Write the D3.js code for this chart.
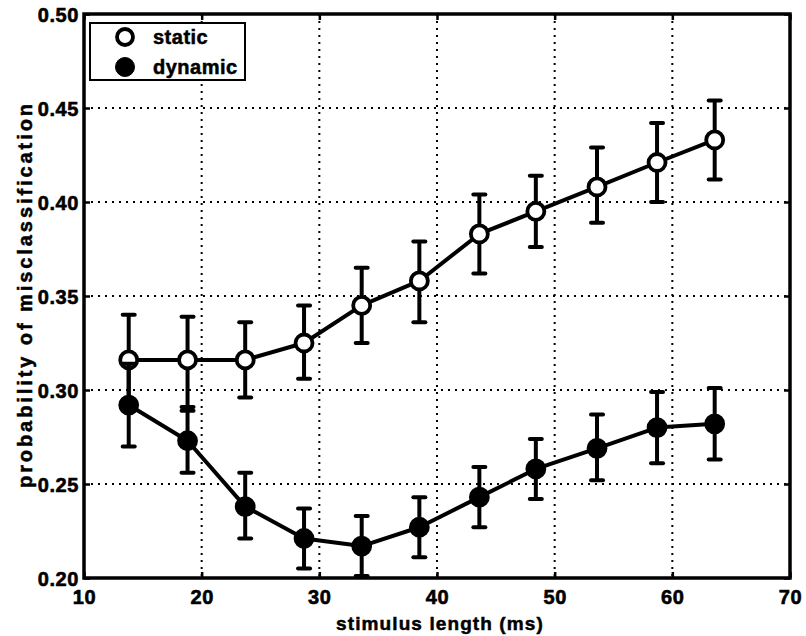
<!DOCTYPE html>
<html>
<head>
<meta charset="utf-8">
<script src="https://cdn.jsdelivr.net/npm/d3@7"></script>
<style>
  html, body { margin: 0; padding: 0; background: #fff; }
  svg { display: block; }
  text { font-family: "Liberation Sans", Arial, Helvetica, sans-serif; font-weight: bold; fill: #000; stroke: #000; stroke-width: 0.5px; }
</style>
</head>
<body>
<svg id="chart" width="806" height="636"></svg>
<script>
// ---- data ----
const stimulusLength = [13.8, 18.8, 23.7, 28.7, 33.6, 38.5, 43.6, 48.4, 53.6, 58.7, 63.6];
const staticMean  = [0.316, 0.316, 0.316, 0.325, 0.345, 0.358, 0.383, 0.395, 0.408, 0.421, 0.433];
const staticLow   = [0.292, 0.291, 0.296, 0.306, 0.325, 0.336, 0.362, 0.376, 0.389, 0.400, 0.412];
const staticHigh  = [0.340, 0.339, 0.336, 0.345, 0.365, 0.379, 0.404, 0.414, 0.429, 0.442, 0.454];
const dynamicMean = [0.292, 0.273, 0.238, 0.221, 0.217, 0.227, 0.243, 0.258, 0.269, 0.280, 0.282];
const dynamicLow  = [0.270, 0.256, 0.221, 0.205, 0.201, 0.211, 0.227, 0.242, 0.252, 0.261, 0.263];
const dynamicHigh = [0.314, 0.289, 0.256, 0.237, 0.233, 0.243, 0.259, 0.274, 0.287, 0.299, 0.301];
const xTicks = [10, 20, 30, 40, 50, 60, 70];
const yTicks = [0.20, 0.25, 0.30, 0.35, 0.40, 0.45, 0.50];
const seriesNames = ["static", "dynamic"];
const xTitle = "stimulus length (ms)";
const yTitle = "probability of misclassification";

// ---- layout ----
const L = 84, R = 790, T = 14, B = 578;
const svg = d3.select("#chart");
const x = d3.scaleLinear().domain([10, 70]).range([L, R]);
const y = d3.scaleLinear().domain([0.20, 0.50]).range([B, T]);

// grid (dotted)
const grid = svg.append("g");
grid.selectAll("line.vx").data(xTicks.slice(1, -1)).join("line")
  .attr("x1", d => x(d)).attr("x2", d => x(d)).attr("y1", T).attr("y2", B)
  .attr("stroke", "#000").attr("stroke-width", 2).attr("stroke-dasharray", "2,5");
grid.selectAll("line.hy").data(yTicks.slice(1, -1)).join("line")
  .attr("y1", d => y(d)).attr("y2", d => y(d)).attr("x1", L).attr("x2", R)
  .attr("stroke", "#000").attr("stroke-width", 2).attr("stroke-dasharray", "2,5");

// axes with inward ticks
const xAxisB = d3.axisBottom(x).tickValues(xTicks).tickSize(-6).tickFormat(d3.format("d"));
const xAxisT = d3.axisTop(x).tickValues(xTicks).tickSize(-6).tickFormat("");
const yAxisL = d3.axisLeft(y).tickValues(yTicks).tickSize(-6).tickFormat(d3.format(".2f"));
const yAxisR = d3.axisRight(y).tickValues(yTicks).tickSize(-6).tickFormat("");

function styleAxis(g) {
  g.select(".domain").remove();
  g.selectAll(".tick line").attr("stroke", "#000").attr("stroke-width", 2.5);
  g.selectAll(".tick text").style("font-size", "20px").style("letter-spacing", "0.6px")
    .style("font-family", '"Liberation Sans", Arial, sans-serif').style("font-weight", "bold")
    .attr("fill", "#000").style("stroke", "#000").style("stroke-width", "0.6px");
}
svg.append("g").attr("transform", `translate(0,${B})`).call(xAxisB).call(styleAxis)
  .selectAll(".tick text").attr("y", 12).attr("dy", "0.71em");
svg.append("g").attr("transform", `translate(0,${T})`).call(xAxisT).call(styleAxis);
svg.append("g").attr("transform", `translate(${L},0)`).call(yAxisL).call(styleAxis)
  .selectAll(".tick text").attr("x", -5).attr("dy", "0.36em");
svg.append("g").attr("transform", `translate(${R},0)`).call(yAxisR).call(styleAxis);

// frame
svg.append("rect").attr("x", L).attr("y", T).attr("width", R - L).attr("height", B - T)
  .attr("fill", "none").attr("stroke", "#000").attr("stroke-width", 3.5);

// series
const series = [
  { name: seriesNames[0], mean: staticMean, low: staticLow, high: staticHigh, fill: "#fff" },
  { name: seriesNames[1], mean: dynamicMean, low: dynamicLow, high: dynamicHigh, fill: "#000" }
];
const line = d3.line().x(d => x(d.x)).y(d => y(d.y));
const capW = 6;
series.forEach(s => {
  const pts = stimulusLength.map((v, i) => ({ x: v, y: s.mean[i], lo: s.low[i], hi: s.high[i] }));
  const g = svg.append("g");
  g.selectAll("line.eb").data(pts).join("line")
    .attr("x1", d => x(d.x)).attr("x2", d => x(d.x)).attr("y1", d => y(d.lo)).attr("y2", d => y(d.hi))
    .attr("stroke", "#000").attr("stroke-width", 4);
  g.selectAll("line.capl").data(pts).join("line")
    .attr("x1", d => x(d.x) - capW).attr("x2", d => x(d.x) + capW).attr("y1", d => y(d.lo)).attr("y2", d => y(d.lo))
    .attr("stroke", "#000").attr("stroke-width", 4).attr("stroke-linecap", "round");
  g.selectAll("line.caph").data(pts).join("line")
    .attr("x1", d => x(d.x) - capW).attr("x2", d => x(d.x) + capW).attr("y1", d => y(d.hi)).attr("y2", d => y(d.hi))
    .attr("stroke", "#000").attr("stroke-width", 4).attr("stroke-linecap", "round");
  g.append("path").datum(pts).attr("d", line).attr("fill", "none")
    .attr("stroke", "#000").attr("stroke-width", 4).attr("stroke-linejoin", "round");
  g.selectAll("circle").data(pts).join("circle")
    .attr("cx", d => x(d.x)).attr("cy", d => y(d.y)).attr("r", 8.5)
    .attr("fill", s.fill).attr("stroke", "#000").attr("stroke-width", 3.8);
});

// legend
const lg = svg.append("g");
lg.append("rect").attr("x", 90).attr("y", 23).attr("width", 155).attr("height", 57)
  .attr("fill", "#fff").attr("stroke", "#000").attr("stroke-width", 2);
series.forEach((s, i) => {
  const cy = 37 + i * 30;
  lg.append("circle").attr("cx", 125).attr("cy", cy).attr("r", i === 0 ? 8 : 9.5)
    .attr("fill", s.fill).attr("stroke", "#000").attr("stroke-width", i === 0 ? 3.8 : 1);
  lg.append("text").attr("x", 153).attr("y", cy).attr("dy", "0.36em")
    .style("font-size", "20px").style("letter-spacing", "0.5px").text(s.name);
});

// axis titles
svg.append("text").attr("x", (L + R) / 2 + 3).attr("y", 630).attr("text-anchor", "middle")
  .style("font-size", "19px").style("letter-spacing", "1.1px").text(xTitle);
svg.append("text").attr("transform", `translate(32,${(T + B) / 2}) rotate(-90)`)
  .attr("text-anchor", "middle")
  .attr("textLength", 384).attr("lengthAdjust", "spacing")
  .style("font-size", "20px").text(yTitle);
</script>
</body>
</html>
